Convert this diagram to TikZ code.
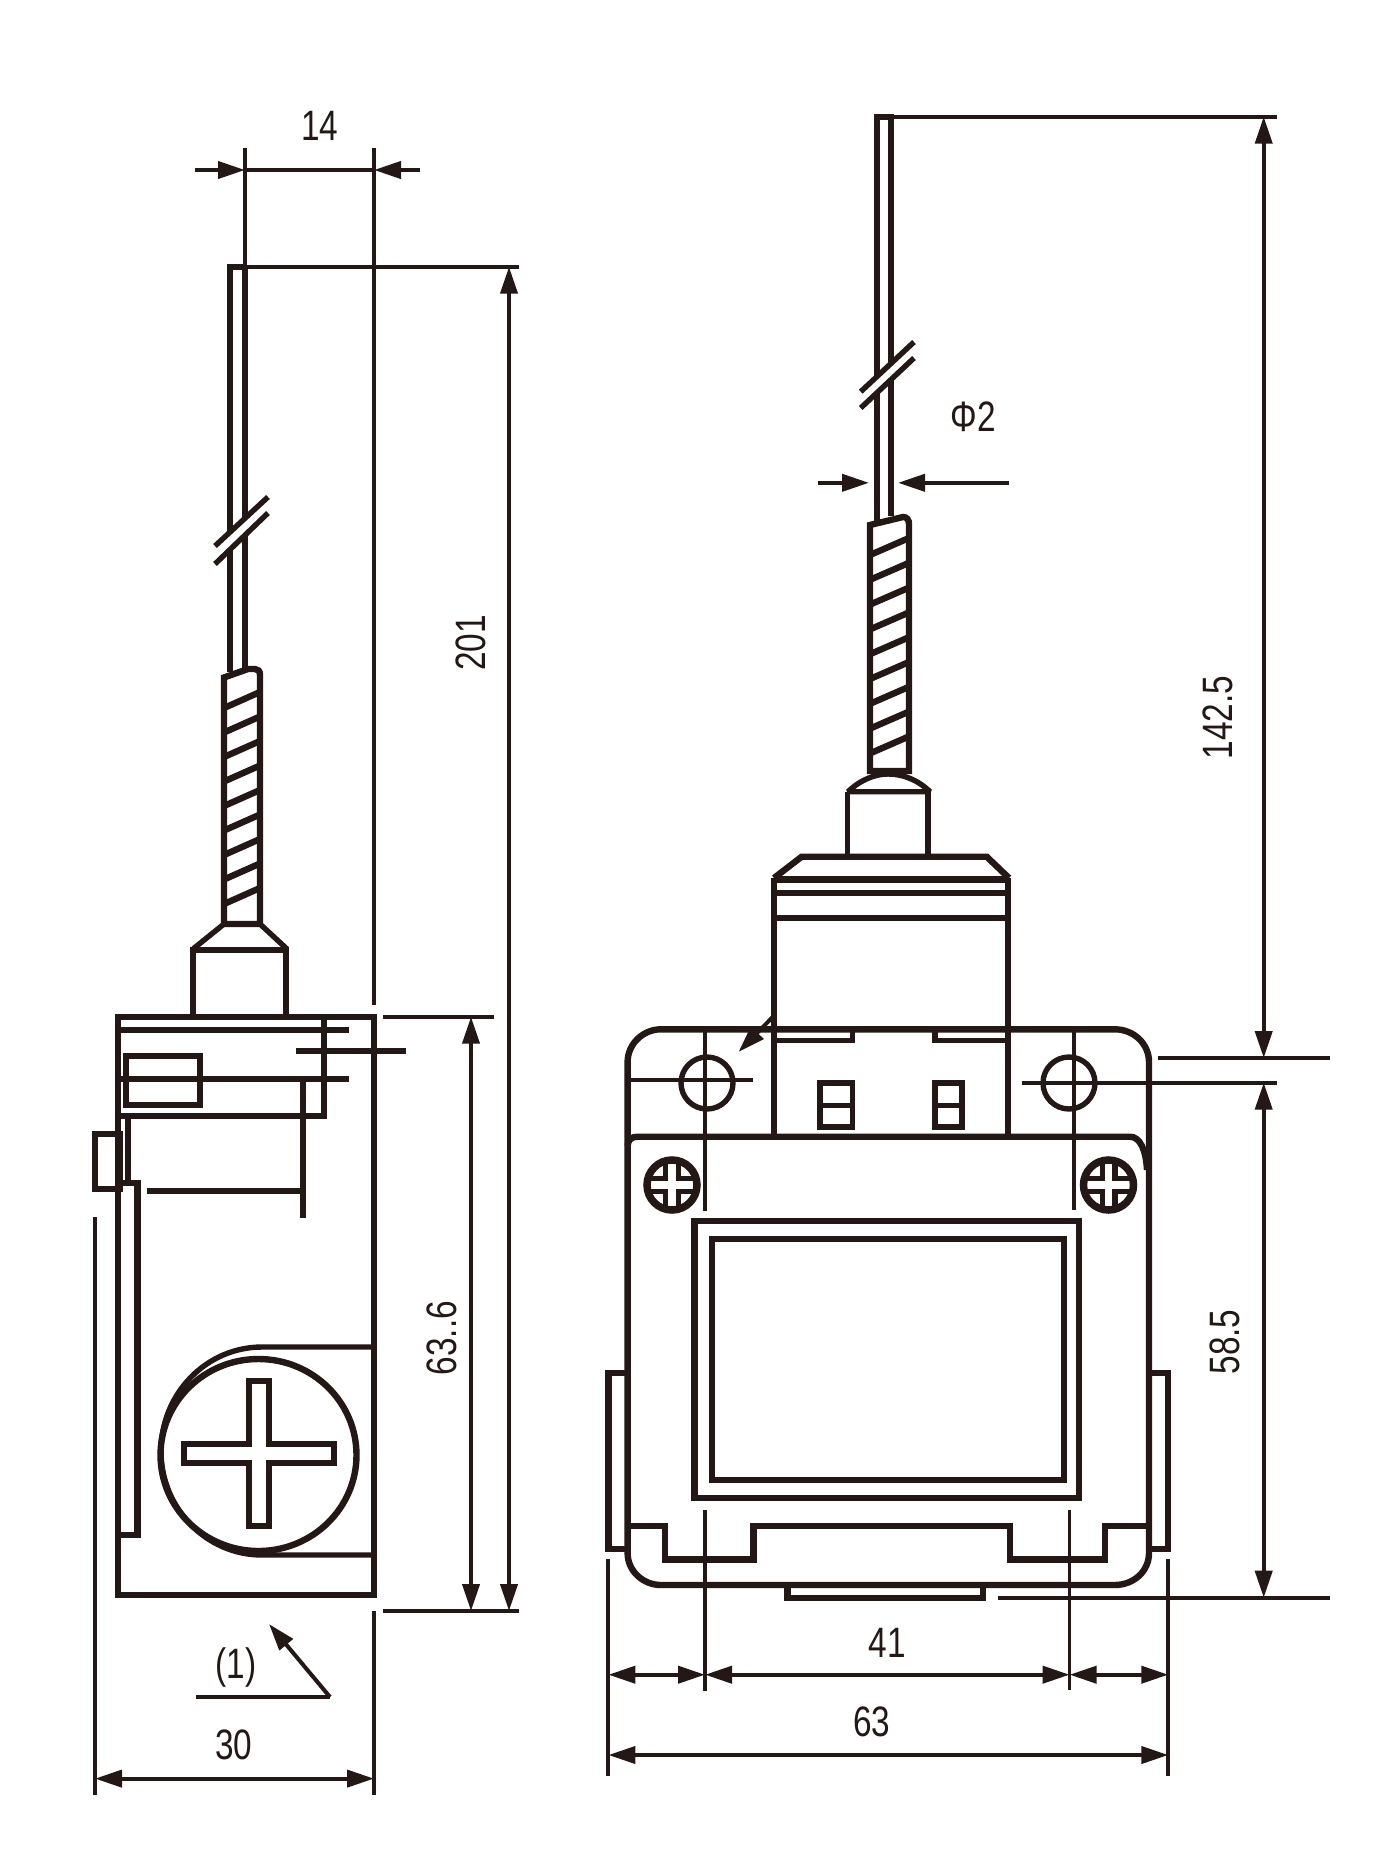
\documentclass[tikz,border=0pt]{standalone}
\usepackage{fontspec}
\setmainfont[FakeStretch=0.785]{Liberation Sans}
\usetikzlibrary{arrows.meta}
\definecolor{ink}{HTML}{231815}
\tikzset{
  heavy/.style={draw=ink,line width=6.4pt,line join=miter},
  medium/.style={draw=ink,line width=5.4pt,line join=miter},
  fine/.style={draw=ink,line width=3.6pt},
  dimline/.style={draw=ink,line width=4pt},
  tipa/.style={-{Triangle[length=27pt,width=17pt,color=ink]}},
  tipb/.style={{Triangle[length=27pt,width=17pt,color=ink]}-{Triangle[length=27pt,width=17pt,color=ink]}},
  label/.style={inner sep=0pt,text=ink,font=\fontsize{42.5}{42.5}\selectfont},
  vlabel/.style={label,rotate=90}
}
\newcommand{\screwhead}[2]{%
  \begin{scope}
    \clip (#1,#2) circle[radius=27];
    \draw[ink,line width=18pt] (#1-28,#2) -- (#1+28,#2) (#1,#2-28) -- (#1,#2+28);
    \draw[white,line width=7.5pt] (#1-22,#2) -- (#1+22,#2) (#1,#2-22) -- (#1,#2+22);
  \end{scope}
  \draw[draw=ink,line width=7.5pt] (#1,#2) circle[radius=25];
}
\begin{document}
\begin{tikzpicture}[x=1pt,y=-1pt]
\useasboundingbox (0,0) rectangle (1389,1860);
\fill[white] (0,0) rectangle (1389,1860);

% ===== LEFT VIEW =====
% wire
\draw[heavy] (230,672) -- (230,266.7) -- (245,266.7);
\draw[medium] (245,266.7) -- (245,669);
\draw[white,line width=8pt] (215,555) -- (268,505);
\draw[medium] (215,546) -- (268,497);
\draw[medium] (215,564) -- (268,513);
% spring
\draw[heavy] (224,924) -- (224,677.5) -- (248,669) -- (255,669) .. controls (258,669) and (260,671) .. (260,675) -- (260,924) -- cycle;
\foreach \i in {0,...,8}{
  \draw[heavy] (224,708+24.5*\i) -- (260,692+24.5*\i);
}
\draw[medium] (224,924) -- (193,949);
\draw[medium] (260,924) -- (287,949);
\draw[heavy] (193,1017) -- (193,950) -- (286,950) -- (286,1017);
% body
\draw[heavy] (118,1016.7) rectangle (374,1595);
\draw[heavy] (118,1030) -- (349,1030);
\draw[heavy] (296,1051) -- (406,1051);
\draw[heavy] (118,1079) -- (349,1079);
\draw[heavy] (324,1017) -- (324,1115.7) -- (118,1115.7);
\draw[heavy] (303,1079) -- (303,1218);
\draw[heavy] (126,1056) rectangle (200,1105);
\draw[heavy] (127.7,1116) -- (127.7,1182.7);
\draw[heavy] (118,1182.7) -- (137.3,1182.7) -- (137.3,1535) -- (118,1535);
\draw[heavy] (147,1190.7) -- (303,1190.7);
\draw[heavy] (94.7,1134) rectangle (120,1189);
% screw
\draw[medium] (374,1347) -- (262,1347) .. controls (206,1347) and (161,1394) .. (161,1451) .. controls (161,1508) and (206,1555) .. (262,1555) -- (374,1555);
\draw[heavy] (258.5,1455) ellipse[x radius=98,y radius=96];
\draw[heavy] (249,1444) -- (249,1381) -- (269,1381) -- (269,1444) -- (334,1444) -- (334,1463) -- (269,1463) -- (269,1526) -- (249,1526) -- (249,1463) -- (184,1463) -- (184,1444) -- cycle;
% left dimensions
\draw[fine] (245,148) -- (245,266);
\draw[dimline] (374,148) -- (374,1005);
\draw[dimline] (374,1611) -- (374,1795);
\draw[dimline] (95,1217) -- (95,1795);
\draw[dimline,tipa] (195,170) -- (245,170);
\draw[dimline,tipa] (420,170) -- (374,170);
\draw[dimline] (245,170) -- (374,170);
\draw[dimline] (227,266.7) -- (519,266.7);
\draw[dimline] (383,1016.7) -- (494,1016.7);
\draw[dimline] (383,1611) -- (519,1611);
\draw[dimline,tipb] (509,266.7) -- (509,1611);
\draw[dimline,tipb] (471,1016.7) -- (471,1611);
\draw[dimline,tipb] (95,1778.6) -- (374,1778.6);
\draw[fine] (196,1697) -- (330,1697);
\draw[dimline,tipa] (330,1697) -- (269,1624);
\node[label] (d14) at (320,126) {14};
\node[vlabel] (d201) at (471,643) {201};
\node[vlabel] (d636) at (441.7,1338) {63..6};
\node[label] (d1) at (236,1667) {(1)};
\node[label] (d30) at (234,1745) {30};

% ===== RIGHT VIEW =====
% wire
\draw[heavy] (876.7,521) -- (876.7,116.7) -- (890.7,116.7) -- (890.7,516);
\draw[white,line width=8pt] (860.7,400) -- (914,350);
\draw[medium] (860.7,391.7) -- (914,342);
\draw[medium] (860.7,408) -- (914,358);
% spring
\draw[heavy] (870,771) -- (870,525) -- (903,517) .. controls (907,517) and (909,520) .. (909,524) -- (909,771) -- cycle;
\foreach \i in {0,...,8}{
  \draw[heavy] (870,555+24.8*\i) -- (909,538+24.8*\i);
}
\draw[medium,line join=bevel] (848,791.7) .. controls (860,780) and (875,774) .. (888,774) .. controls (903,774) and (918,780) .. (930,791.7) -- cycle;
\draw[medium] (847.5,791.7) -- (847.5,856.7);
\draw[medium] (928,791.7) -- (928,856.7);
% flange
\draw[heavy] (774,878) -- (801.7,856.7) -- (986.7,856.7) -- (1009,878);
\draw[draw=ink,line width=7pt] (774,879.3) -- (1009,879.3);
\draw[heavy] (774,878) -- (774,1136.7);
\draw[heavy] (1008,878) -- (1008,1136.7);
\draw[heavy] (774,893) -- (1008,893);
\draw[heavy] (774,918) -- (1008,918);
% base
\draw[heavy] (661,1029.3) -- (1114.7,1029.3) .. controls (1134,1029.3) and (1149,1044) .. (1149,1062) -- (1149,1553) .. controls (1149,1571) and (1134,1585) .. (1114.7,1585) -- (661,1585) .. controls (643,1585) and (627.6,1571) .. (627.6,1553) -- (627.6,1062) .. controls (627.6,1044) and (643,1029.3) .. (661,1029.3) -- cycle;
\draw[heavy] (627.6,1146) .. controls (627.6,1140) and (632,1136.7) .. (637,1136.7) -- (1130,1136.7) .. controls (1140,1136.7) and (1146,1150) .. (1147,1170);
% clips
\draw[medium] (774,1040.7) -- (852.6,1040.7) -- (852.6,1029);
\draw[medium] (1008,1040.7) -- (935,1040.7) -- (935,1029);
\draw[medium] (820,1083) rectangle (852.6,1127);
\draw[medium] (820,1105.7) -- (852.6,1105.7);
\draw[medium] (935,1083) rectangle (962,1127);
\draw[medium] (935,1105.7) -- (962,1105.7);
% holes
\draw[medium] (707,1083) circle[radius=26];
\draw[medium] (1069,1083) circle[radius=26];
% screws
\screwhead{672}{1185}
\screwhead{1108.5}{1185}
% window
\draw[heavy] (694.3,1221) rectangle (1079,1497.7);
\draw[heavy] (711.7,1239) rectangle (1063.7,1480);
% steps
\draw[heavy] (627.6,1525.7) -- (665,1525.7) -- (665,1559.3) -- (753.3,1559.3) -- (753.3,1525.7) -- (1010,1525.7) -- (1010,1559.3) -- (1105,1559.3) -- (1105,1525.7) -- (1149,1525.7);
% side clips
\draw[heavy] (627.6,1372.7) -- (608.3,1372.7) -- (608.3,1549) -- (627.6,1549);
\draw[heavy] (1149,1372.7) -- (1168,1372.7) -- (1168,1549) -- (1149,1549);
% bottom tab
\draw[heavy] (787.5,1585) -- (787.5,1597.7) -- (982.7,1597.7) -- (982.7,1585);
% centre lines and extension lines
\draw[fine] (705,1029) -- (705,1210.7);
\draw[fine] (705,1510) -- (705,1690.7);
\draw[fine] (1073.8,1029) -- (1073.8,1210);
\draw[fine] (1069.6,1510) -- (1069.6,1690);
\draw[fine] (628,1080) -- (753,1080);
\draw[dimline] (1021.7,1082.7) -- (1276.7,1082.7);
\draw[dimline] (1158,1058) -- (1330,1058);
\draw[dimline] (998,1597.7) -- (1330,1597.7);
\draw[dimline] (876,116.7) -- (1276.7,116.7);
\draw[dimline] (608.4,1559) -- (608.4,1775.7);
\draw[dimline] (1168.3,1559) -- (1168.3,1775.7);
% arrows
\draw[dimline,tipb] (1263.7,116.7) -- (1263.7,1058);
\draw[dimline,tipb] (1263.7,1082.7) -- (1263.7,1597.7);
\draw[dimline,tipb] (608.4,1674.7) -- (705,1674.7);
\draw[dimline,tipb] (705,1674.7) -- (1069.6,1674.7);
\draw[dimline,tipb] (1069.6,1674.7) -- (1168.3,1674.7);
\draw[dimline,tipb] (608.4,1755) -- (1168.3,1755);
\draw[dimline,tipa] (818,482.8) -- (869,482.8);
\draw[dimline,tipa] (1009,482.8) -- (898,482.8);
\draw[dimline,tipa] (773,1016.7) -- (738.5,1052);
\node[label] (dphi) at (973,417) {Φ2};
\node[vlabel] (d1425) at (1218,717.5) {142.5};
\node[vlabel] (d585) at (1225,1342) {58.5};
\node[label] (d41) at (887,1643) {41};
\node[label] (d63) at (871.7,1721.7) {63};
\end{tikzpicture}
\end{document}
